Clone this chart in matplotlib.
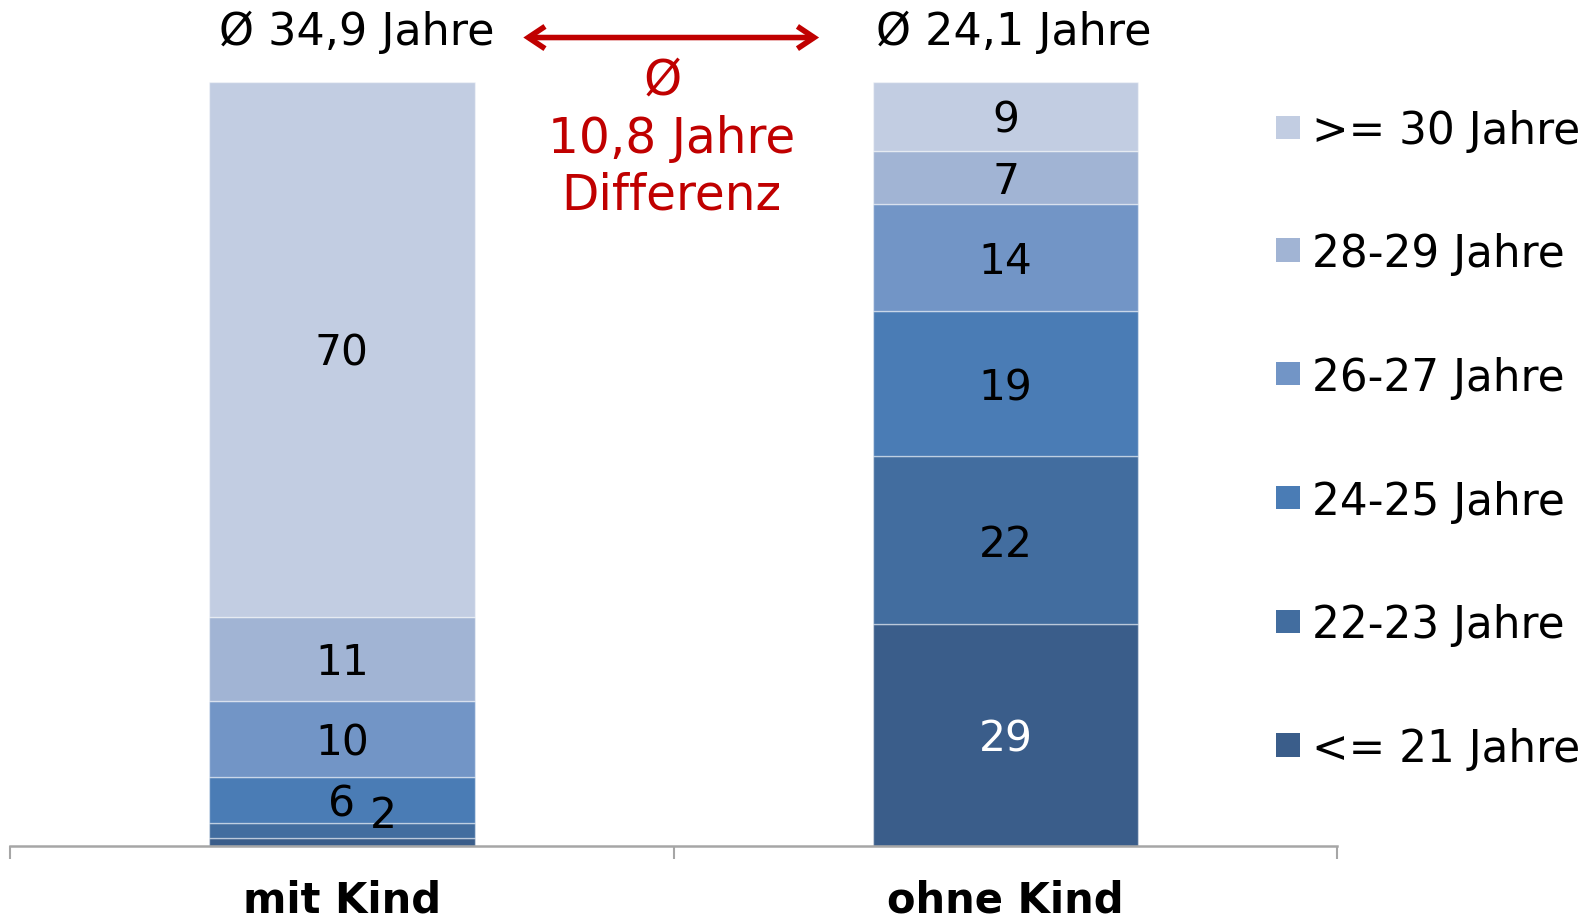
import matplotlib
matplotlib.use("Agg")
import matplotlib.pyplot as plt
from matplotlib.patches import Rectangle, FancyArrowPatch
from matplotlib.transforms import offset_copy
import numpy as np

plt.rcParams['font.family'] = ['DejaVu Sans']

categories = ['mit Kind', 'ohne Kind']
groups = ['<= 21 Jahre', '22-23 Jahre', '24-25 Jahre', '26-27 Jahre', '28-29 Jahre', '>= 30 Jahre']
mit_kind = [1, 2, 6, 10, 11, 70]
ohne_kind = [29, 22, 19, 14, 7, 9]
averages = ['Ø 34,9 Jahre', 'Ø 24,1 Jahre']
difference_text = ['Ø', '10,8 Jahre', 'Differenz']

colors = ['#3A5D8A', '#426D9F', '#4A7CB5', '#7295C6', '#A1B4D4', '#C2CDE2']

W, H = 1591, 923
# layout coordinates measured on a 1568x910 view
RW, RH = 1568, 910
fig = plt.figure(figsize=(W / 100, H / 100), dpi=100)

def fx(px):
    return px / RW

def fy(py):
    return 1 - py / RH

ax = fig.add_axes([fx(10), fy(834), fx(1318) - fx(10), fy(81) - fy(834)])
ax.set_xlim(-0.5, 1.5)
ax.set_ylim(0, 100)

data_tr = offset_copy(ax.transData, fig=fig, x=0, y=-3, units='points')
fig_tr = offset_copy(fig.transFigure, fig=fig, x=0, y=-3, units='points')

x = np.arange(len(categories))
series = np.array([mit_kind, ohne_kind]).T  # groups x categories
bottom = np.zeros(len(categories))
for gi, g in enumerate(groups):
    vals = series[gi]
    ax.bar(x, vals, width=0.4, bottom=bottom, color=colors[gi],
           edgecolor=(1, 1, 1, 0.45), linewidth=1.0, label=g)
    for ci in range(len(categories)):
        v = vals[ci]
        yc = bottom[ci] + v / 2
        xc = x[ci]
        if v < 2:
            continue
        if v == 2:
            xc = x[ci] + 0.063
            yc = bottom[ci] + 3.5
        tc = 'white' if gi == 0 else 'black'
        ax.text(xc, yc, f"{v}", ha='center', va='center', fontsize=30.5, color=tc,
                transform=data_tr)
    bottom += vals

for s in ['top', 'right', 'left']:
    ax.spines[s].set_visible(False)
ax.spines['bottom'].set_color('#A6A6A6')
ax.spines['bottom'].set_linewidth(1.8)
ax.set_yticks([])
ax.set_xticks(x, labels=categories)
ax.tick_params(axis='x', which='major', length=0, pad=24, labelsize=30)
for lbl in ax.get_xticklabels():
    lbl.set_fontweight('bold')
ax.set_xticks([-0.5, 0.5, 1.5], minor=True)
ax.tick_params(axis='x', which='minor', length=9, width=1.5, color='#A6A6A6', direction='out')

# averages on top
fig.text(fx(352), fy(28), averages[0], ha='center', va='center', fontsize=32, transform=fig_tr)
fig.text(fx(999), fy(28), averages[1], ha='center', va='center', fontsize=32, transform=fig_tr)

# red double arrow
fig.add_artist(FancyArrowPatch(
    (fx(513), fy(37)), (fx(810), fy(37)), transform=fig.transFigure,
    arrowstyle='<->,head_length=12,head_width=8', linewidth=4, color='#C00000',
    mutation_scale=1, joinstyle='miter', capstyle='butt'))

for i, (t, py) in enumerate(zip(difference_text, [75, 133, 189])):
    fig.text(fx(662 if i else 653), fy(py), t, ha='center', va='center', fontsize=35,
             color='#C00000', transform=fig_tr)

# legend
leg_y = [735, 613, 491, 369, 247, 126]
for gi, g in enumerate(groups):
    fig.add_artist(Rectangle((fx(1258), fy(leg_y[gi] + 11)), fx(23), 23 / RH,
                             transform=fig.transFigure, facecolor=colors[gi], edgecolor='none'))
    fig.text(fx(1293), fy(leg_y[gi]), g, ha='left', va='center', fontsize=31.5, transform=fig_tr)

fig.savefig('out.png', dpi=100)
